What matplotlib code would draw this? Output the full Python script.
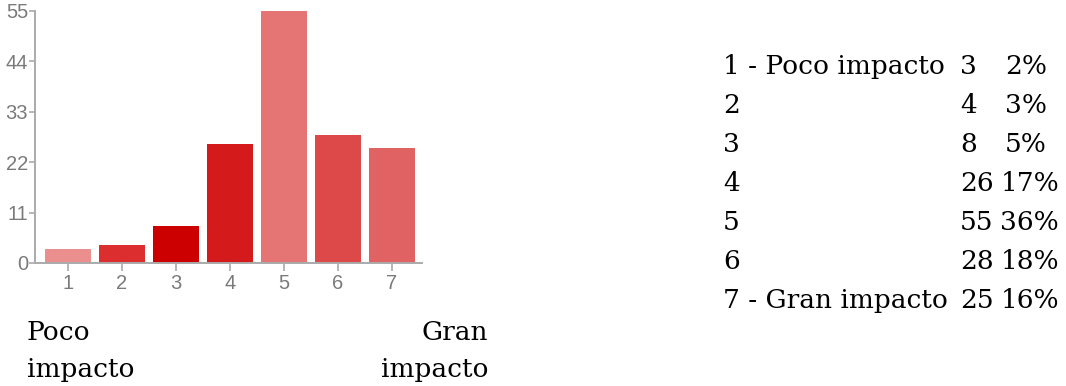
import matplotlib
matplotlib.use("Agg")
import matplotlib.pyplot as plt

# Survey responses on a 1-7 impact scale
categories = [1, 2, 3, 4, 5, 6, 7]
counts = [3, 4, 8, 26, 55, 28, 25]
percents = [2, 3, 5, 17, 36, 18, 16]
row_labels = ["1 - Poco impacto", "2", "3", "4", "5", "6", "7 - Gran impacto"]
bar_colors = ["#EA8E8E", "#DC2E2E", "#CC0000", "#D41A1A", "#E57474", "#DD4848", "#E16262"]
y_ticks = [0, 11, 22, 33, 44, 55]

W, H = 1066, 386
fig = plt.figure(figsize=(W / 100, H / 100), dpi=100)

def fx(px):
    return px / W

def fy(py):
    return 1 - py / H

ax = fig.add_axes([fx(35), fy(263), fx(422) - fx(35), fy(11) - fy(263)])
ax.bar(categories, counts, width=0.85, color=bar_colors, zorder=2)
ax.set_xlim(0.39, 7.56)
ax.set_ylim(0, 55)
ax.set_yticks(y_ticks)
ax.set_xticks(categories)
axis_gray = "#AAAAAA"
label_gray = "#7A7A7A"
for side in ("top", "right"):
    ax.spines[side].set_visible(False)
for side in ("left", "bottom"):
    ax.spines[side].set_color(axis_gray)
    ax.spines[side].set_linewidth(1.4)
ax.tick_params(axis="both", colors=axis_gray, labelcolor=label_gray,
               labelsize=14.5, width=1.2)
ax.tick_params(axis="y", length=4, pad=1)
ax.tick_params(axis="x", length=6, pad=2)
for lbl in ax.get_xticklabels() + ax.get_yticklabels():
    lbl.set_fontfamily("Liberation Sans")

serif = "DejaVu Serif"
fs = 19

# Scale end labels under the chart
for txt, base in (("Poco", 340), ("impacto", 377)):
    fig.text(fx(27), fy(base), txt, ha="left", va="baseline", fontsize=fs, family=serif)
for txt, base in (("Gran", 340), ("impacto", 377)):
    fig.text(fx(488), fy(base), txt, ha="right", va="baseline", fontsize=fs, family=serif)

# Frequency table on the right
fig.canvas.draw()
renderer = fig.canvas.get_renderer()
row_base0, row_step = 74, 39
pct_tab = 1005
for i, (lab, c, p) in enumerate(zip(row_labels, counts, percents)):
    y = fy(row_base0 + i * row_step)
    fig.text(fx(723), y, lab, ha="left", va="baseline", fontsize=fs, family=serif)
    t = fig.text(fx(960), y, str(c), ha="left", va="baseline", fontsize=fs, family=serif)
    right = t.get_window_extent(renderer).x1
    # single-digit counts are followed by a tab, longer ones by a space
    x_pct = pct_tab if c < 10 else right + 7
    fig.text(fx(x_pct), y, f"{p}%", ha="left", va="baseline", fontsize=fs, family=serif)

fig.savefig("out.png", dpi=100)
